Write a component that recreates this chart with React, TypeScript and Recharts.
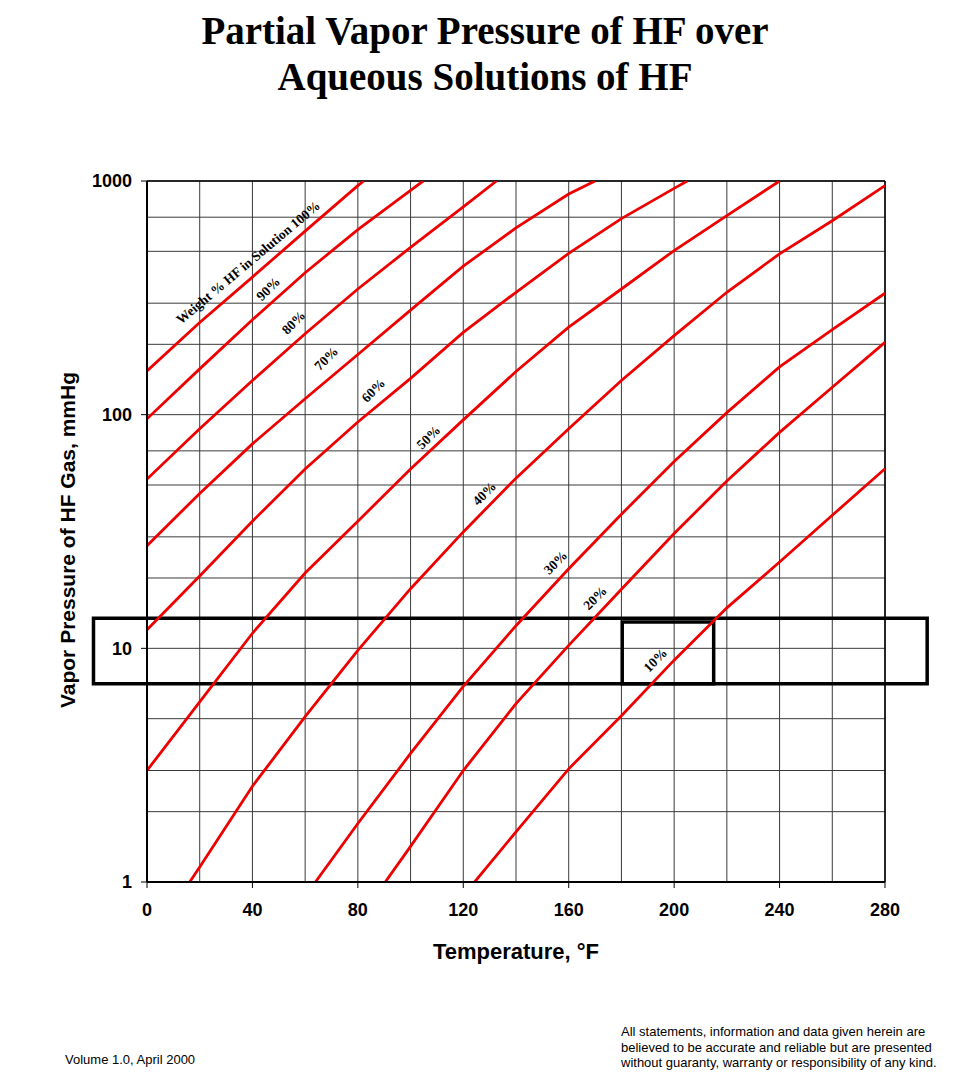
import React from 'react';
import {
  LineChart,
  Line,
  XAxis,
  YAxis,
  CartesianGrid,
  ReferenceArea,
  ReferenceDot,
  ReferenceLine,
} from 'recharts';

// axis ticks and grid
const tempTicks = [0, 40, 80, 120, 160, 200, 240, 280];
const pressureTicks = [1, 10, 100, 1000];
const gridTemps = [0, 20, 40, 60, 80, 100, 120, 140, 160, 180, 200, 220, 240, 260, 280];
const gridPressures = [
  1, 2, 3, 4, 5, 6, 7, 8, 9,
  10, 20, 30, 40, 50, 60, 70, 80, 90,
  100, 200, 300, 400, 500, 600, 700, 800, 900, 1000,
];

// temperature (°F) / vapor pressure (mmHg)
const t100 = [0, 20, 40, 60, 80, 82.2];
const p100 = [154, 248, 388, 610, 955, 1000];
const t90 = [0, 20, 40, 60, 80, 100, 104.8];
const p90 = [96, 157, 255, 405, 619, 912, 1000];
const t80 = [0, 20, 40, 60, 80, 100, 120, 132.6];
const p80 = [53, 87, 140, 222, 345, 520, 775, 1000];
const t70 = [0, 20, 40, 60, 80, 100, 120, 140, 160, 170];
const p70 = [27.5, 46, 75, 117, 181, 280, 432, 630, 880, 1000];
const t60 = [0, 20, 40, 60, 80, 100, 120, 140, 160, 180, 200, 205];
const p60 = [12, 20.4, 35, 58.5, 93, 143, 225, 334, 490, 690, 930, 1000];
const t50 = [0, 20, 40, 60, 80, 100, 120, 140, 160, 180, 200, 220, 240];
const p50 = [3, 5.9, 11.6, 21, 35, 58.5, 95, 153, 237, 345, 504, 711, 1000];
const t40 = [16.2, 20, 40, 60, 80, 100, 120, 140, 160, 180, 200, 220, 240, 260, 280];
const p40 = [1, 1.16, 2.57, 5.1, 9.8, 18, 31.5, 53.5, 87, 140, 218, 334, 488, 676, 955];
const t30 = [63.9, 80, 100, 120, 140, 160, 180, 200, 220, 240, 260, 280];
const p30 = [1, 1.78, 3.55, 6.88, 12.5, 21.9, 37.5, 63, 102, 160, 231, 331];
const t20 = [90.4, 100, 120, 140, 160, 180, 200, 220, 240, 260, 280];
const p20 = [1, 1.42, 3.0, 5.8, 10.3, 17.9, 31, 52, 84, 131, 204];
const t10 = [124.3, 140, 160, 180, 200, 220, 240, 260, 280];
const p10 = [1, 1.64, 3.05, 5.15, 8.9, 14.9, 23.4, 37.1, 58.7];

const curveNames = ['100%', '90%', '80%', '70%', '60%', '50%', '40%', '30%', '20%', '10%'];
const curveTemps = [t100, t90, t80, t70, t60, t50, t40, t30, t20, t10];
const curvePressures = [p100, p90, p80, p70, p60, p50, p40, p30, p20, p10];

// curve labels: text and anchor (°F, mmHg)
const labelTexts = [
  'Weight % HF in Solution 100%', '90%', '80%', '70%', '60%', '50%', '40%', '30%', '20%', '10%',
];
const labelTemps = [38.4, 46, 55.6, 68, 85.9, 106.8, 128, 155, 170, 192.9];
const labelPressures = [448, 346, 248, 174, 127, 80, 46, 23.3, 16.4, 8.9];

// highlighted boxes (°F range, mmHg range)
const outerBox = { t: [-20.3, 296], p: [7.06, 13.45] };
const innerBox = { t: [180.3, 215], p: [7.06, 12.97] };

const sans = '"Liberation Sans", Arial, Helvetica, sans-serif';
const serif = '"Liberation Serif", "Times New Roman", Times, serif';

const curves = curveNames.map((name, i) => ({
  name,
  data: curveTemps[i].map((t, j) => ({ t, p: curvePressures[i][j] })),
}));

const CurveLabel = ({ cx, cy, text, angle }: any) => (
  <text
    x={cx}
    y={cy}
    transform={`rotate(${angle} ${cx} ${cy})`}
    textAnchor="middle"
    dominantBaseline="central"
    fontFamily={serif}
    fontWeight="bold"
    fontSize={13.5}
    fill="#000"
  >
    {text}
  </text>
);

export default function App() {
  return (
    <div
      style={{
        position: 'absolute',
        left: 0,
        top: 0,
        width: 962,
        height: 1092,
        background: '#fff',
        fontFamily: sans,
        color: '#000',
      }}
    >
      <div
        style={{
          position: 'absolute',
          left: 0,
          top: 8,
          width: 970,
          textAlign: 'center',
          fontFamily: serif,
          fontWeight: 'bold',
          fontSize: 39,
          lineHeight: '46px',
        }}
      >
        Partial Vapor Pressure of HF over
        <br />
        Aqueous Solutions of HF
      </div>

      <LineChart
        width={962}
        height={1092}
        margin={{ top: 181, right: 77, bottom: 180, left: 87 }}
      >
        <CartesianGrid
          stroke="#3a3a3a"
          strokeWidth={1}
          horizontalValues={gridPressures}
          verticalValues={gridTemps}
        />
        <XAxis
          type="number"
          dataKey="t"
          domain={[0, 280]}
          ticks={tempTicks}
          allowDataOverflow
          height={30}
          tickSize={6}
          tickMargin={15}
          axisLine={{ stroke: '#000', strokeWidth: 2 }}
          tickLine={{ stroke: '#000' }}
          tick={{ fill: '#000', fontSize: 18, fontWeight: 'bold', fontFamily: sans }}
        />
        <YAxis
          type="number"
          scale="log"
          domain={[1, 1000]}
          ticks={pressureTicks}
          allowDataOverflow
          width={60}
          tickSize={6}
          tickMargin={9}
          axisLine={{ stroke: '#000', strokeWidth: 2 }}
          tickLine={{ stroke: '#000' }}
          tick={{ fill: '#000', fontSize: 18, fontWeight: 'bold', fontFamily: sans }}
        />
        <ReferenceLine y={1000} stroke="#000" strokeWidth={1.5} />
        <ReferenceLine x={280} stroke="#000" strokeWidth={1.5} />

        {curves.map((c) => (
          <Line
            key={c.name}
            data={c.data}
            dataKey="p"
            type="linear"
            stroke="#ee0000"
            strokeWidth={2.8}
            dot={false}
            activeDot={false}
            isAnimationActive={false}
          />
        ))}

        <ReferenceArea
          x1={outerBox.t[0]}
          x2={outerBox.t[1]}
          y1={outerBox.p[0]}
          y2={outerBox.p[1]}
          ifOverflow="visible"
          fill="none"
          fillOpacity={0}
          stroke="#000"
          strokeWidth={3.5}
        />
        <ReferenceArea
          x1={innerBox.t[0]}
          x2={innerBox.t[1]}
          y1={innerBox.p[0]}
          y2={innerBox.p[1]}
          ifOverflow="visible"
          fill="none"
          fillOpacity={0}
          stroke="#000"
          strokeWidth={3.5}
        />

        {labelTexts.map((text, i) => (
          <ReferenceDot
            key={text}
            x={labelTemps[i]}
            y={labelPressures[i]}
            r={0}
            ifOverflow="visible"
            shape={(props: any) => (
              <CurveLabel cx={props.cx} cy={props.cy} text={text} angle={i === 0 ? -40 : -45} />
            )}
          />
        ))}
      </LineChart>

      <div
        style={{
          position: 'absolute',
          left: 68 - 200,
          top: 540 - 14,
          width: 400,
          height: 28,
          lineHeight: '28px',
          textAlign: 'center',
          transform: 'rotate(-90deg)',
          fontWeight: 'bold',
          fontSize: 21,
        }}
      >
        Vapor Pressure of HF Gas, mmHg
      </div>

      <div
        style={{
          position: 'absolute',
          left: 316,
          top: 938,
          width: 400,
          lineHeight: '28px',
          textAlign: 'center',
          fontWeight: 'bold',
          fontSize: 22,
        }}
      >
        Temperature, °F
      </div>

      <div style={{ position: 'absolute', left: 65, top: 1052, fontSize: 13, lineHeight: '16px' }}>
        Volume 1.0, April 2000
      </div>
      <div
        style={{
          position: 'absolute',
          left: 621,
          top: 1024,
          fontSize: 13,
          lineHeight: '15.5px',
          whiteSpace: 'nowrap',
        }}
      >
        All statements, information and data given herein are
        <br />
        believed to be accurate and reliable but are presented
        <br />
        without guaranty, warranty or responsibility of any kind.
      </div>
    </div>
  );
}
